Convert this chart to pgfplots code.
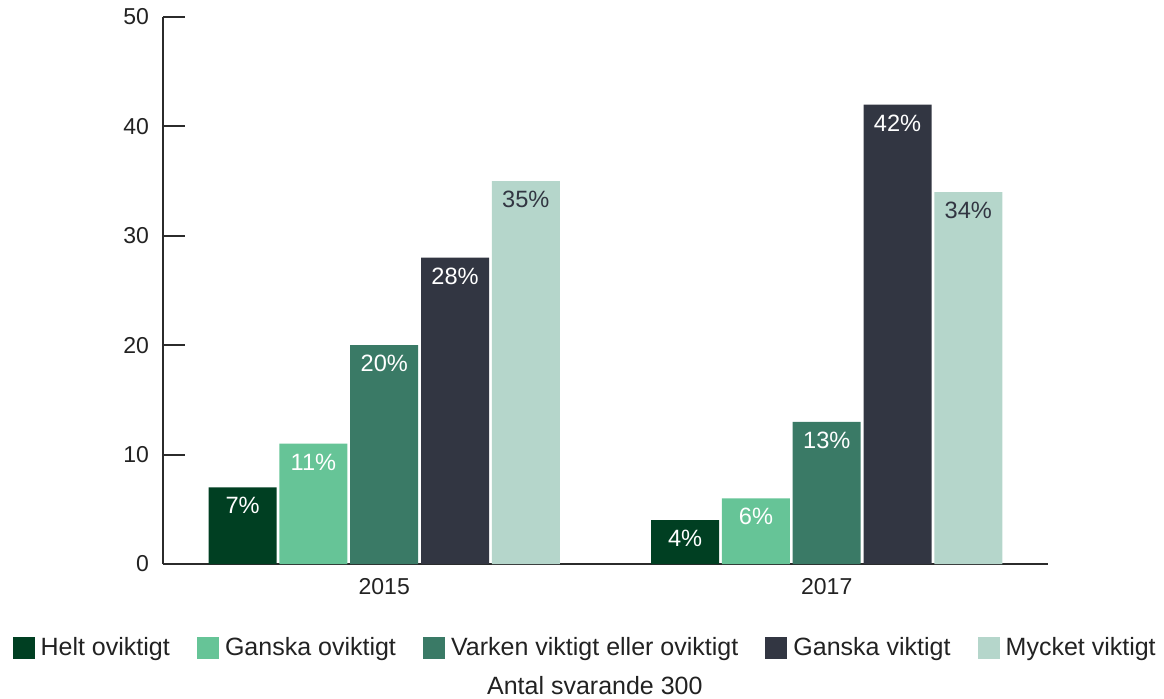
\documentclass[border=0pt]{standalone}
\usepackage{pgfplots}
\pgfplotsset{compat=1.18}
\usepackage{fontspec}
\setmainfont{Liberation Sans}
\definecolor{cA}{HTML}{003F22}
\definecolor{cB}{HTML}{66C497}
\definecolor{cC}{HTML}{3A7A66}
\definecolor{cD}{HTML}{323642}
\definecolor{cE}{HTML}{B5D6CB}
\definecolor{axcol}{HTML}{2B2B2B}
\definecolor{txt}{HTML}{222222}
\begin{document}
\begin{tikzpicture}
\useasboundingbox (-81.5pt,-67pt) rectangle (500.5pt,282pt);
\begin{axis}[
  scale only axis, clip=false,
  width=442.5pt, height=273.5pt,
  xmin=-0.5, xmax=1.5, ymin=0, ymax=50,
  ybar=1.4pt, bar width=34pt,
  axis lines=left,
  axis line style={-, draw=axcol, line width=1pt},
  xtick={0,1}, xticklabels={2015,2017},
  xtick style={draw=none},
  ytick={0,10,20,30,40,50},
  ytick style={draw=axcol, line width=1pt},
  tick align=inside, major tick length=11pt,
  /pgf/number format/assume math mode=true,
  tick label style={font=\fontsize{11.5pt}{13pt}\selectfont, text=txt},
  yticklabel style={xshift=-3.5pt},
  xticklabel style={yshift=-3.5pt},
  nodes near coords={\pgfmathprintnumber{\pgfplotspointmeta}\%},
  every node near coord/.append style={anchor=north, yshift=-1.5pt, text=white, font=\fontsize{11.8pt}{13pt}\selectfont},
  legend columns=-1,
  legend style={at={(rel axis cs:0.4793,-0.1536)}, anchor=center, draw=none, fill=none,
    font=\fontsize{12.5pt}{14pt}\selectfont, text=txt,
    nodes={inner xsep=3pt},
    /tikz/every even column/.append style={column sep=10.6pt},
    /tikz/every odd column/.append style={column sep=0pt}},
  legend image code/.code={\fill[#1, draw=none] (0pt,-5.5pt) rectangle (11pt,5.5pt);},
]
\addplot[fill=cA, draw=none] coordinates {(0,7) (1,4)};
\addplot[fill=cB, draw=none] coordinates {(0,11) (1,6)};
\addplot[fill=cC, draw=none] coordinates {(0,20) (1,13)};
\addplot[fill=cD, draw=none] coordinates {(0,28) (1,42)};
\addplot[fill=cE, draw=none, every node near coord/.append style={text=cD}] coordinates {(0,35) (1,34)};
\legend{Helt oviktigt, Ganska oviktigt, Varken viktigt eller oviktigt, Ganska viktigt, Mycket viktigt}
\node[font=\fontsize{12.5pt}{14pt}\selectfont, text=txt] at ([yshift=-61pt]rel axis cs:0.488,0) {Antal svarande 300};
\end{axis}
\end{tikzpicture}
\end{document}
